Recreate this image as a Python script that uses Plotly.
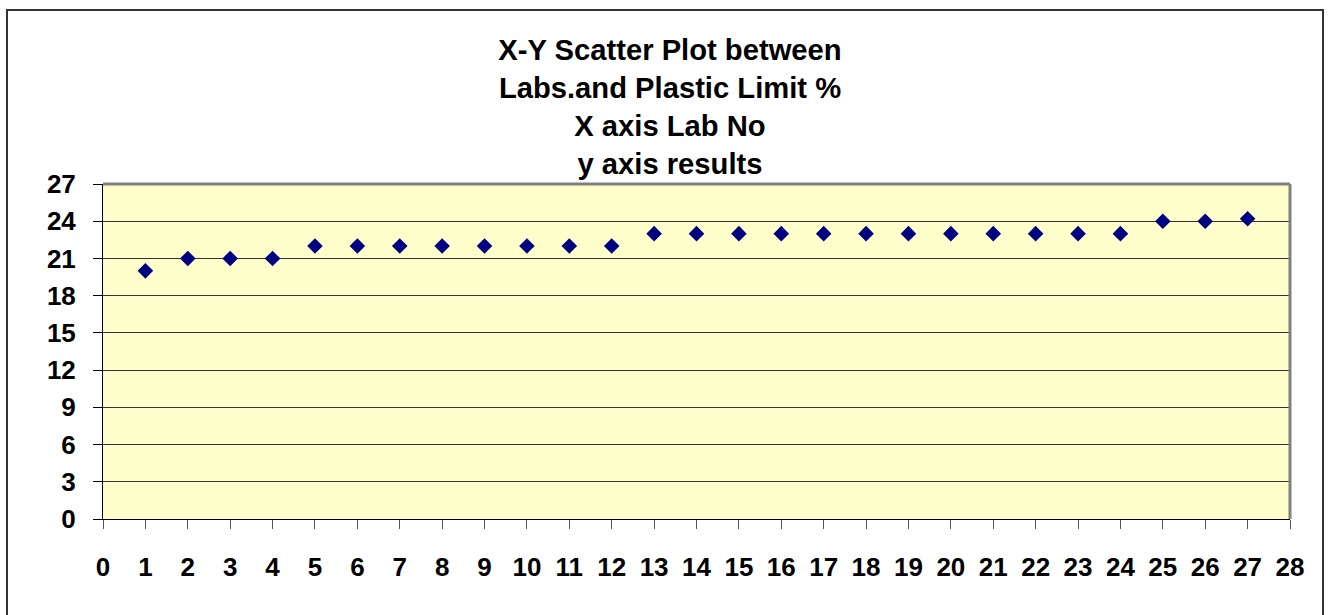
import plotly.graph_objects as go

lab_no = list(range(1, 28))
plastic_limit = [20, 21, 21, 21,
                 22, 22, 22, 22, 22, 22, 22, 22,
                 23, 23, 23, 23, 23, 23, 23, 23, 23, 23, 23, 23,
                 24, 24, 24.2]
x_ticks = list(range(0, 29))
y_ticks = list(range(0, 28, 3))
title_lines = ["X-Y Scatter Plot between", "Labs.and Plastic Limit %",
               "X axis Lab No", "y axis results"]

W, H = 1331, 615
L, R, T, B = 103, 1290, 184, 519

fig = go.Figure()
fig.add_trace(go.Scatter(
    x=lab_no, y=plastic_limit, mode="markers",
    marker=dict(symbol="diamond", size=12, color="#000080",
                line=dict(width=0)),
    showlegend=False, hoverinfo="x+y"))

font = "Liberation Sans, Arial, sans-serif"

def px2x(px):
    return (px - L) / (R - L)

def py2y(py):
    return (B - py) / (B - T)

fig.update_layout(
    width=W, height=H,
    margin=dict(l=L, r=W - R, t=T, b=H - B, pad=0),
    paper_bgcolor="white",
    plot_bgcolor="#FFFFCC",
    font=dict(family=font, color="black", size=20),
    title=dict(text="<b>" + "<br>".join(title_lines) + "</b>",
               x=670 / W, xanchor="center", xref="container",
               yref="container", y=1 - 60 / H, yanchor="top",
               font=dict(size=29.2, family=font, color="black")),
    shapes=[
        dict(type="rect", xref="paper", yref="paper",
             x0=px2x(7), x1=px2x(1323), y0=py2y(640), y1=py2y(10),
             line=dict(color="#333333", width=2), layer="below"),
        dict(type="line", xref="paper", yref="paper",
             x0=0, x1=1, y0=1, y1=1, line=dict(color="#808080", width=3)),
        dict(type="line", xref="paper", yref="paper",
             x0=1, x1=1, y0=0, y1=1, line=dict(color="#808080", width=3)),
    ],
)

fig.update_xaxes(
    range=[0, 28], tickvals=x_ticks, ticktext=[str(v) for v in x_ticks],
    showgrid=False, zeroline=False,
    showline=True, linecolor="black", linewidth=1,
    ticks="outside", ticklen=9, tickcolor="#555555", tickwidth=1,
    tickfont=dict(size=26, family=font, color="black", weight="bold"),
    ticklabelstandoff=16, fixedrange=True)

fig.update_yaxes(
    range=[0, 27], tickvals=y_ticks, ticktext=[str(v) for v in y_ticks],
    showgrid=True, gridcolor="#333333", gridwidth=1,
    zeroline=False,
    showline=True, linecolor="black", linewidth=1,
    ticks="outside", ticklen=9, tickcolor="black", tickwidth=1,
    tickfont=dict(size=26, family=font, color="black", weight="bold"),
    ticklabelstandoff=12, fixedrange=True)

fig.write_html("out.html",
               config={"displayModeBar": False},
               post_script="document.body.style.margin='0px';")
